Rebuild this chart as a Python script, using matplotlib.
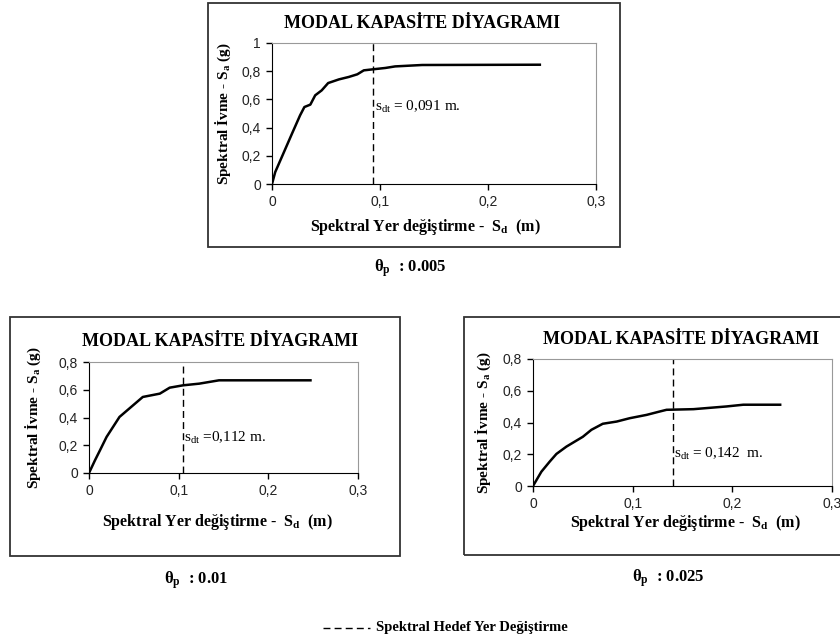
import matplotlib.pyplot as plt
from matplotlib.patches import Rectangle
from matplotlib.lines import Line2D

plt.rcParams['mathtext.fontset'] = 'custom'
plt.rcParams['mathtext.rm'] = 'Liberation Serif'
plt.rcParams['mathtext.it'] = 'Liberation Serif'
plt.rcParams['mathtext.bf'] = 'Liberation Serif:bold'

# capacity curves
sd_005 = [0, 0.003, 0.009, 0.0185, 0.026, 0.030, 0.0355, 0.040, 0.046, 0.052, 0.062, 0.071,
          0.079, 0.085, 0.093, 0.105, 0.114, 0.139, 0.248]
sa_005 = [0, 0.085, 0.19, 0.357, 0.487, 0.546, 0.563, 0.629, 0.664, 0.716, 0.742, 0.759,
          0.778, 0.806, 0.813, 0.823, 0.834, 0.844, 0.846]

sd_01 = [0, 0.0067, 0.0122, 0.0196, 0.034, 0.047, 0.060, 0.0695, 0.079, 0.090, 0.105,
         0.123, 0.145, 0.247]
sa_01 = [0, 0.092, 0.163, 0.26, 0.404, 0.476, 0.548, 0.56, 0.572, 0.615, 0.632,
         0.644, 0.668, 0.668]

sd_025 = [0, 0.0084, 0.0168, 0.0235, 0.0335, 0.042, 0.050, 0.0586, 0.070, 0.084, 0.097,
          0.114, 0.127, 0.134, 0.161, 0.194, 0.211, 0.248]
sa_025 = [0, 0.09, 0.154, 0.202, 0.248, 0.28, 0.31, 0.354, 0.392, 0.406, 0.427,
          0.448, 0.469, 0.48, 0.484, 0.501, 0.512, 0.512]

sdt_line = [0.0935, 0.105, 0.140]
sdt_text = [' = 0,091 m.', ' =0,112 m.', ' = 0,142  m.']
theta_p = ['0.005', '0.01', '0.025']
ymax = [1.0, 0.8, 0.8]

W, H = 840, 644
fig = plt.figure(figsize=(W / 100, H / 100), dpi=100)


def fx(px):
    return px / W


def fy(py):
    return 1 - py / H


serif = 'Liberation Serif'
sans = 'Liberation Sans'

# pixel layout: axes box, frame box, title pos, xlabel pos, ylabel x, theta pos, note pos
panels = [
    dict(ax=(272, 596, 43, 184), frame=(208, 620, 3, 247), title=(422, 24), xl=(425, 227),
         yl=223, th=(410, 268), note=(0.095, 0.55)),
    dict(ax=(89, 358, 362, 473), frame=(10, 400, 317, 556), title=(220, 342), xl=(217, 522),
         yl=33, th=(196, 580), note=(0.1065, 0.32)),
    dict(ax=(533, 832, 359, 486), frame=(464, 845, 317, 555), title=(681, 339), xl=(685, 523),
         yl=483, th=(668, 578), note=(0.1415, 0.25)),
]
curves = [(sd_005, sa_005), (sd_01, sa_01), (sd_025, sa_025)]

for i, p in enumerate(panels):
    l, r, t, b = p['frame']
    fig.patches.append(Rectangle((fx(l), fy(b)), fx(r - l), (b - t) / H, transform=fig.transFigure,
                                 fill=False, edgecolor='#333333', linewidth=1.3))
    l, r, t, b = p['ax']
    ax = fig.add_axes([fx(l), fy(b), fx(r - l), (b - t) / H])
    sd, sa = curves[i]
    ax.plot(sd, sa, color='black', linewidth=1.8)
    ax.axvline(sdt_line[i], color='black', linestyle=(0, (5, 3)), linewidth=1)
    ax.set_xlim(0, 0.3)
    ax.set_ylim(0, ymax[i])
    xt = [0, 0.1, 0.2, 0.3]
    ax.set_xticks(xt)
    ax.set_xticklabels(['0', '0,1', '0,2', '0,3'])
    yt = [k * 0.2 for k in range(int(round(ymax[i] / 0.2)) + 1)]
    ax.set_yticks(yt)
    ax.set_yticklabels(['0' if v == 0 else ('1' if v == 1 else ('%.1f' % v).replace('.', ',')) for v in yt])
    for lab in ax.get_xticklabels() + ax.get_yticklabels():
        lab.set_fontfamily(sans)
        lab.set_fontsize(10)
        lab.set_color('#222222')
    ax.tick_params(direction='out', length=4, width=1, pad=4)
    ax.spines['left'].set_color('black')
    ax.spines['bottom'].set_color('black')
    ax.spines['top'].set_color('#999999')
    ax.spines['right'].set_color('#999999')
    ax.text(p['note'][0], p['note'][1] * ymax[i], r'$\mathrm{s_{dt}}$' + sdt_text[i],
            family=serif, fontsize=11, transform=ax.transData, va='center')

    fig.text(fx(p['title'][0]), fy(p['title'][1]), 'MODAL KAPASİTE DİYAGRAMI', family=serif,
             fontweight='bold', fontsize=13, ha='center', va='center')
    fig.text(fx(p['xl'][0]), fy(p['xl'][1]), r'Spektral Yer değiştirme -  S$_\mathbf{d}$  (m)',
             family=serif, fontweight='bold', fontsize=11.5, ha='center', va='center')
    fig.text(fx(p['yl']), fy((t + b) / 2), r'Spektral İvme - S$_\mathbf{a}$ (g)', family=serif,
             fontweight='bold', fontsize=11, ha='center', va='center', rotation=90)
    fig.text(fx(p['th'][0]), fy(p['th'][1]), r'$\mathbf{\theta}_{\mathbf{p}}$  : ' + theta_p[i],
             family=serif, fontweight='bold', fontsize=12, ha='center', va='center')

fig.lines.append(Line2D([fx(323), fx(370)], [fy(628), fy(628)], transform=fig.transFigure,
                        color='black', linestyle=(0, (5, 3)), linewidth=1))
fig.text(fx(376), fy(628), 'Spektral Hedef Yer Değiştirme', family=serif, fontweight='bold',
         fontsize=10.5, va='center')

fig.savefig('out.png', dpi=100)
